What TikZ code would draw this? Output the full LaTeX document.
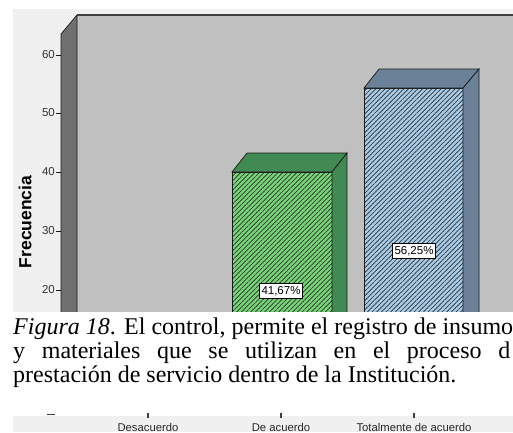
\documentclass[tikz,border=0pt]{standalone}
\usepackage{fontspec}
\setmainfont{Liberation Serif}
\newfontfamily\spssfont{Liberation Sans}
\usepackage{tikz}
\usepackage{xcolor}
\usetikzlibrary{patterns.meta}

\definecolor{chartbg}{HTML}{F0F0F0}
\definecolor{planegray}{HTML}{C0C0C0}
\definecolor{wallgray}{HTML}{707070}
\definecolor{greenfront}{HTML}{78D478}
\definecolor{greendark}{HTML}{418A53}
\definecolor{bluefront}{HTML}{A8CBE8}
\definecolor{bluedark}{HTML}{6A8197}

\begin{document}
\begin{tikzpicture}[x=1pt,y=-1pt,
    ticklabel/.style={anchor=east,inner sep=1pt,text=black!80,font=\spssfont\fontsize{11.5}{12}\selectfont},
    pctlabel/.style={draw=black,fill=white,line width=0.5pt,inner xsep=1.8pt,inner ysep=2.6pt,font=\spssfont\fontsize{11.5}{12}\selectfont},
    catlabel/.style={anchor=base,inner sep=0pt,text=black!85,font=\spssfont\fontsize{11.3}{12}\selectfont},
    capline/.style={anchor=base west,inner sep=0pt,font=\fontsize{24}{24}\selectfont},
    hatch/.style={pattern={Lines[angle=45,distance=3.3pt,line width=0.65pt]},pattern color=black!85},
    edge/.style={draw=black!90,line width=0.7pt}]
            \useasboundingbox (0,0) rectangle (513,432);
            \clip (0,0) rectangle (513,432);
            \fill[color=white] (0,0) rectangle (513,432);

            % chart background, back plane and left wall
            \fill[color=chartbg] (13,9) rectangle (513,312);
            \fill[color=planegray] (77,15) rectangle (513,312);
            \filldraw[fill=wallgray, edge] (61,312) -- (61,34) -- (77,15) -- (77,312);
            \draw[color=black!75, line width=1.6pt] (77,15) -- (513,15);

            % y axis
            \draw[edge] (56,55) -- (61,55);
            \draw[edge] (56,113) -- (61,113);
            \draw[edge] (56,172) -- (61,172);
            \draw[edge] (56,231) -- (61,231);
            \draw[edge] (56,290) -- (61,290);
            \node[ticklabel] (tick60) at (56,55) {60};
            \node[ticklabel] (tick50) at (56,113) {50};
            \node[ticklabel] (tick40) at (56,172) {40};
            \node[ticklabel] (tick30) at (56,231) {30};
            \node[ticklabel] (tick20) at (56,290) {20};
            \node[rotate=90, inner sep=0pt, font=\spssfont\bfseries\fontsize{17.5}{19}\selectfont] (ytitle) at (25,222) {Frecuencia};

            % bar: De acuerdo
            \fill[color=greenfront] (232,172) rectangle (332,312);
            \fill[hatch] (232,172) rectangle (332,312);
            \draw[edge] (232,312) -- (232,172) -- (332,172) -- (332,312);
            \filldraw[fill=greendark, edge] (232,172) -- (247,153) -- (347,153) -- (332,172) -- cycle;
            \filldraw[fill=greendark, edge] (332,312) -- (332,172) -- (347,153) -- (347,312);
            \node[pctlabel] (pctgreen) at (281,291) {41,67\%};

            % bar: Totalmente de acuerdo
            \fill[color=bluefront] (364,88) rectangle (463,312);
            \fill[hatch] (364,88) rectangle (463,312);
            \draw[edge] (364,312) -- (364,88) -- (463,88) -- (463,312);
            \filldraw[fill=bluedark, edge] (364,88) -- (379,69) -- (479,69) -- (463,88) -- cycle;
            \filldraw[fill=bluedark, edge] (463,312) -- (463,88) -- (479,69) -- (479,312);
            \node[pctlabel] (pctblue) at (414,251) {56,25\%};

            % caption
            \fill[color=white] (0,312) rectangle (513,416);
            \node[capline] (capone) at (13,334) {\makebox[500pt][s]{\textit{Figura 18}. El control, permite el registro de insumo}};
            \node[capline] (captwo) at (13,358) {\makebox[497pt][s]{y materiales que se utilizan en el proceso d}};
            \node[capline] (capthree) at (13,382) {prestación de servicio dentro de la Institución.};

            % category strip
            \fill[color=chartbg] (13,416) rectangle (513,432);
            \draw[color=black!75, line width=0.9pt] (47,414) -- (55,414);
            \draw[color=black!75, line width=1.1pt] (148,413) -- (148,418);
            \draw[color=black!75, line width=1.1pt] (281,413) -- (281,418);
            \draw[color=black!75, line width=1.1pt] (414,413) -- (414,418);
            \node[catlabel] (catdes) at (148,431) {Desacuerdo};
            \node[catlabel] (catde) at (281,431) {De acuerdo};
            \node[catlabel] (cattot) at (414,431) {Totalmente de acuerdo};
        \end{tikzpicture}
\end{document}
